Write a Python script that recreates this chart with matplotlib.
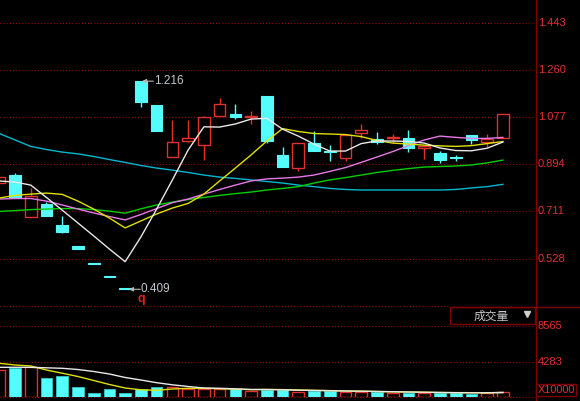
import matplotlib
matplotlib.use("Agg")
import matplotlib.pyplot as plt
from matplotlib.lines import Line2D
from matplotlib.patches import Rectangle

plt.rcParams['font.family'] = ['Liberation Sans', 'Noto Sans CJK SC', 'DejaVu Sans']

# day index (-1 is the half-hidden bar at the left edge)
days = list(range(-1, 32))

opens = [0.821, 0.852, 0.688, 0.739, 0.658, 0.576, 0.511, 0.461, 0.414, 1.216, 1.125,
         0.921, 0.984, 0.968, 1.082, 1.090, 1.077, 1.157, 0.929, 0.878, 0.975, 0.947,
         0.917, 1.014, 0.992, 0.997, 0.994, 0.958, 0.939, 0.921, 1.007, 0.981, 0.997]
highs = [0.846, 0.859, 0.801, 0.749, 0.693, 0.576, 0.511, 0.461, 0.414, 1.216, 1.125,
         1.065, 1.065, 1.081, 1.152, 1.126, 1.099, 1.157, 0.960, 0.975, 1.024, 0.968,
         1.007, 1.050, 1.019, 1.012, 1.027, 0.968, 0.946, 0.930, 1.007, 1.010, 1.090]
lows = [0.820, 0.764, 0.688, 0.694, 0.627, 0.566, 0.507, 0.457, 0.409, 1.115, 1.022,
        0.921, 0.979, 0.910, 1.082, 1.069, 1.050, 0.975, 0.884, 0.869, 0.946, 0.908,
        0.908, 0.994, 0.972, 0.977, 0.942, 0.913, 0.900, 0.906, 0.972, 0.960, 0.997]
closes = [0.843, 0.764, 0.771, 0.694, 0.630, 0.566, 0.507, 0.457, 0.409, 1.136, 1.022,
          0.979, 0.996, 1.078, 1.127, 1.077, 1.081, 0.983, 0.884, 0.975, 0.946, 0.943,
          1.007, 1.027, 0.981, 1.001, 0.956, 0.966, 0.910, 0.918, 0.988, 0.990, 1.088]

ma5 = [0.829, 0.825, 0.813, 0.765, 0.716, 0.666, 0.616, 0.565, 0.516, 0.612, 0.720,
       0.833, 0.949, 1.039, 1.038, 1.050, 1.069, 1.072, 1.030, 1.003, 0.972, 0.945,
       0.945, 0.974, 0.984, 0.984, 0.982, 0.976, 0.957, 0.947, 0.946, 0.956, 0.980]
ma10 = [0.763, 0.773, 0.778, 0.782, 0.777, 0.751, 0.720, 0.685, 0.647, 0.674, 0.701,
        0.724, 0.742, 0.778, 0.829, 0.879, 0.930, 0.984, 1.032, 1.021, 1.013, 1.011,
        1.009, 1.001, 0.986, 0.976, 0.972, 0.968, 0.965, 0.963, 0.966, 0.974, 0.982]
ma20 = [0.759, 0.761, 0.761, 0.751, 0.736, 0.720, 0.705, 0.691, 0.678, 0.699, 0.722,
        0.745, 0.759, 0.778, 0.796, 0.813, 0.829, 0.837, 0.840, 0.844, 0.852, 0.866,
        0.881, 0.901, 0.922, 0.943, 0.966, 0.988, 1.003, 0.998, 0.994, 0.994, 0.998]
ma30 = [0.711, 0.714, 0.718, 0.720, 0.722, 0.722, 0.718, 0.712, 0.704, 0.721, 0.736,
        0.747, 0.757, 0.765, 0.773, 0.780, 0.786, 0.794, 0.800, 0.807, 0.821, 0.833,
        0.842, 0.852, 0.862, 0.870, 0.877, 0.883, 0.885, 0.887, 0.891, 0.899, 0.910]
ma60 = [1.013, 0.988, 0.963, 0.951, 0.941, 0.934, 0.924, 0.912, 0.901, 0.889, 0.879,
        0.871, 0.862, 0.852, 0.844, 0.839, 0.833, 0.827, 0.821, 0.813, 0.807, 0.800,
        0.796, 0.794, 0.794, 0.794, 0.794, 0.794, 0.794, 0.796, 0.802, 0.807, 0.816]

# volume in units of 10000
volume = [3279, 3485, 3606, 2275, 2589, 1222, 460, 1016, 460, 1016, 1186, 1186, 944,
          944, 944, 944, 774, 859, 823, 653, 738, 738, 617, 617, 653, 496, 532, 496,
          460, 460, 411, 460, 653]
vol_ma5 = [3606, 3606, 3606, 3545, 3485, 3340, 3098, 2795, 2372, 2069, 1742, 1488, 1283,
           1101, 1065, 1004, 920, 920, 883, 835, 799, 774, 738, 714, 678, 653, 617, 593,
           557, 532, 520, 520, 557]
vol_ma10 = [4090, 3884, 3763, 3279, 2892, 2493, 2009, 1525, 1101, 883, 823, 980, 1065,
            1065, 1016, 956, 908, 920, 908, 859, 823, 787, 738, 714, 678, 641, 617, 581,
            557, 545, 532, 532, 557]

price_ticks = [1.443, 1.260, 1.077, 0.894, 0.711, 0.528]
price_labels = ["1.443", "1.260", "1.077", "0.894", "0.711", "0.528"]
vol_ticks = [8565, 4283]
vol_labels = ["8565", "4283"]
high_mark = (8, 1.216, "1.216")
low_mark = (7, 0.409, "0.409")

W, H = 580, 401
RED = '#e03030'
CYAN = '#54fcfc'
GRID = '#a00000'
FRAME = '#800000'
dotted = (0, (1, 2))


def fx(px):
    return px / W


def fy(py):
    return 1 - py / H


fig = plt.figure(figsize=(W / 100, H / 100), dpi=100, facecolor='black')

ax = fig.add_axes([0, fy(306), fx(535), 306 / H])
axv = fig.add_axes([0, fy(397.1), fx(535), 90.1 / H])
for a in (ax, axv):
    a.set_facecolor('black')
    a.set_xlim(-0.953, 33.04)
    a.set_xticks([])
    a.set_yticks([])
    for s in a.spines.values():
        s.set_visible(False)
ax.set_ylim(0.3442, 1.5307)
axv.set_ylim(0, 10902)

for p in price_ticks:
    ax.axhline(p, color=GRID, lw=0.75, ls=dotted, zorder=1)
for v in vol_ticks:
    axv.axhline(v, color=GRID, lw=0.75, ls=dotted, zorder=1)
axv.axhline(0, color=GRID, lw=0.75, ls=dotted, zorder=1, clip_on=False)

bw = 0.74
for d, o, h, l, c, v in zip(days, opens, highs, lows, closes, volume):
    top, bot = max(o, c), min(o, c)
    body = max(top - bot, 0.0015)
    if c >= o:
        ax.vlines(d, top, h, color=RED, lw=1, zorder=2)
        ax.vlines(d, l, bot, color=RED, lw=1, zorder=2)
        ax.bar(d, body, bottom=bot, width=bw, facecolor='black', edgecolor=RED,
               lw=1, zorder=2)
        axv.bar(d, v, width=bw, facecolor='black', edgecolor=RED, lw=1, zorder=2)
    else:
        ax.vlines(d, l, h, color=CYAN, lw=1, zorder=2)
        ax.bar(d, body, bottom=bot, width=bw, facecolor=CYAN, edgecolor=CYAN,
               lw=0.8, zorder=2)
        axv.bar(d, v, width=bw, facecolor=CYAN, edgecolor='#30c8c8', lw=0.6, zorder=2)

ax.plot(days, ma60, color='#00b8d0', lw=1, zorder=3)
ax.plot(days, ma30, color='#00d000', lw=1, zorder=3)
ax.plot(days, ma20, color='#e878e8', lw=1, zorder=3)
ax.plot(days, ma10, color='#e0e000', lw=1, zorder=3)
ax.plot(days, ma5, color='#e8e8e8', lw=1, zorder=3)
axv.plot(days, vol_ma10, color='#e0e000', lw=1, zorder=3)
axv.plot(days, vol_ma5, color='#e8e8e8', lw=1, zorder=3)

# high / low markers
for (d, val, txt), off in ((high_mark, 0.07), (low_mark, 0.24)):
    ax.annotate('', xy=(d + off, val), xytext=(d + off + 0.72, val),
                arrowprops=dict(arrowstyle='-|>', color='#b8b8b8', lw=0.8,
                                mutation_scale=6, shrinkA=0, shrinkB=0), zorder=4)
    ax.text(d + off + 0.76, val, txt, color='#c0c8d0', fontsize=8.5,
            ha='left', va='center', zorder=4)
ax.text(8.0, 0.371, 'q', color='#e02020', fontsize=9, fontweight='bold',
        ha='center', va='center', zorder=4)

# right-hand scale labels
lab_x = 538 / 535
for p, t in zip(price_ticks, price_labels):
    ax.text(lab_x, p, t, transform=ax.get_yaxis_transform(), color=RED,
            fontsize=8, ha='left', va='center', clip_on=False)
for v, t in zip(vol_ticks, vol_labels):
    axv.text(lab_x, v, t, transform=axv.get_yaxis_transform(), color=RED,
             fontsize=8, ha='left', va='center', clip_on=False)

# frame lines and boxes
fig.add_artist(Line2D([fx(535.5)] * 2, [0, 1], color=FRAME, lw=1))
fig.add_artist(Line2D([0, fx(450)], [fy(306)] * 2, color=GRID, lw=0.75, ls=dotted))
fig.add_artist(Line2D([fx(450), 1], [fy(306.7)] * 2, color=FRAME, lw=1))
fig.add_artist(Rectangle((fx(450), fy(324)), fx(85), 17.3 / H, facecolor='black',
                         edgecolor=FRAME, lw=1))
fig.text(fx(491.5), fy(316), '成交量', color='#c8c8c8', fontsize=8.5,
         ha='center', va='center', family=['Noto Sans CJK SC', 'DejaVu Sans'])
fig.add_artist(Line2D([fx(527.3)], [fy(314)], marker='v', color='#d0d0d0',
                      markersize=4, lw=0))
fig.add_artist(Rectangle((fx(535.5), fy(396.3)), fx(40.5), 12.8 / H,
                         facecolor='black', edgecolor=FRAME, lw=1))
fig.text(fx(556), fy(390), 'X10000', color=RED, fontsize=7.8, ha='center', va='center')

fig.savefig('out.png', dpi=100, facecolor='black')
